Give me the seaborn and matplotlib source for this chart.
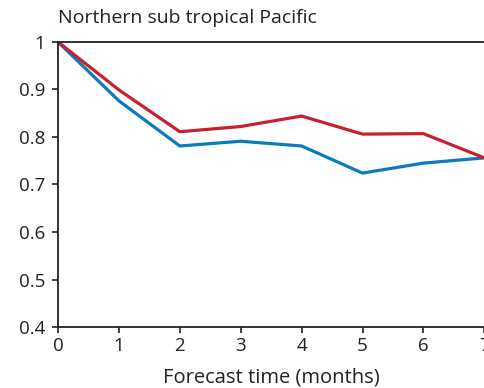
import matplotlib
matplotlib.use("Agg")
import matplotlib.pyplot as plt
import seaborn as sns
import pandas as pd

# Forecast skill by lead time for two forecast systems
lead_months = [0, 1, 2, 3, 4, 5, 6, 7]
skill_red = [1.0, 0.899, 0.811, 0.822, 0.844, 0.806, 0.807, 0.756]
skill_blue = [1.0, 0.876, 0.781, 0.791, 0.781, 0.724, 0.745, 0.756]

sns.set_theme(style="ticks")
plt.rcParams["font.family"] = ["Open Sans", "DejaVu Sans"]

df = pd.concat([
    pd.DataFrame({"lead": lead_months, "skill": skill_red, "system": "red"}),
    pd.DataFrame({"lead": lead_months, "skill": skill_blue, "system": "blue"}),
])

fig = plt.figure(figsize=(4.85, 3.88), dpi=100)
ax = fig.add_axes([0.1196, 0.157, 0.879, 0.735])

sns.lineplot(data=df, x="lead", y="skill", hue="system",
             palette={"red": "#C8202F", "blue": "#0A7BC1"},
             hue_order=["blue", "red"],
             linewidth=2.3, legend=False, ax=ax)

ax.set_xlim(0, 7)
ax.set_ylim(0.4, 1.0)
ax.set_xticks(lead_months)
ax.set_yticks([0.4, 0.5, 0.6, 0.7, 0.8, 0.9, 1.0])
ax.set_yticklabels(["0.4", "0.5", "0.6", "0.7", "0.8", "0.9", "1"])
ax.set_xlabel("Forecast time (months)", fontsize=14.5, labelpad=9, color="#222222")
ax.set_ylabel("")
ax.tick_params(axis="both", labelsize=13.5, length=4, width=1.2, color="#222222",
               labelcolor="#222222", direction="out")
ax.tick_params(axis="x", pad=3)
ax.tick_params(axis="y", pad=5)

for side in ["left", "bottom", "top"]:
    ax.spines[side].set_visible(True)
    ax.spines[side].set_linewidth(1.3)
    ax.spines[side].set_color("#222222")
ax.spines["right"].set_color("#cccccc")
ax.spines["right"].set_linewidth(0.8)

fig.text(0.1196, 0.953, "Northern sub tropical Pacific", fontsize=14,
         ha="left", va="center", color="#222222")

fig.savefig("out.png", dpi=100)
